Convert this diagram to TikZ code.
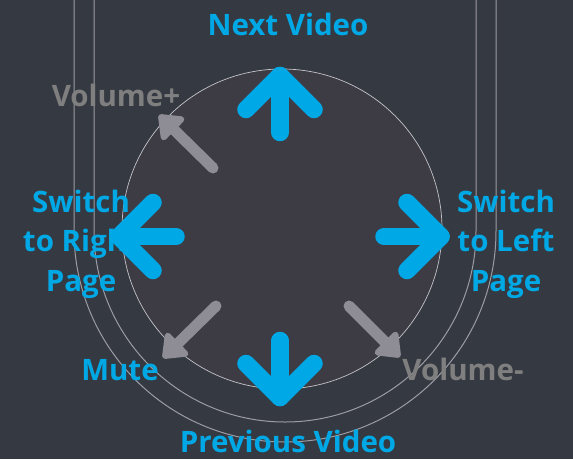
\documentclass[tikz,border=0pt]{standalone}
\usepackage{fontspec}
\setmainfont{Open Sans}
\usetikzlibrary{arrows.meta}
\definecolor{bgdark}{HTML}{353941}
\definecolor{padfill}{HTML}{3D3C45}
\definecolor{padedge}{HTML}{C4C4CA}
\definecolor{rimline}{HTML}{9C9CA4}
\definecolor{swipeblue}{HTML}{00A9E6}
\definecolor{volgray}{HTML}{8E8C95}
\definecolor{textgray}{HTML}{7F7F7F}
\tikzset{
  rim/.style={draw=rimline, line width=1pt},
  swipe/.style={draw=swipeblue, line width=17.5pt, line cap=round, line join=round},
  volarrow/.style={draw=volgray, line width=11pt, line cap=round,
    -{Triangle[round, length=24pt, width=36pt, fill=volgray]}},
  gesturetext/.style={font=\fontsize{29.5}{39.5}\selectfont\bfseries, text=swipeblue,
    align=center, anchor=base, inner sep=0pt},
}
\begin{document}
\begin{tikzpicture}[x=1pt,y=-1pt]  % touch pad gestures
    \fill[bgdark] (0,0) rectangle (573,459);
    \useasboundingbox (0,0) rectangle (573,459);
    % band outline
    \draw[rim] (74,0) -- (74,231) arc[start angle=180, end angle=0, radius=211] -- (496,0);
    \draw[rim] (94,0) -- (94,231) arc[start angle=180, end angle=0, radius=191] -- (476,0);
    \node[circle, draw=padedge, fill=padfill, line width=0.7pt, minimum size=320pt,
      inner sep=0pt] (pad) at (282,229) {};
    % volume and mute
    \draw[volarrow] (213,168) -- (159,115);
    \draw[volarrow] (216,306) -- (163,358);
    \draw[volarrow] (349,306) -- (400,357);
    % swipes
    \coordinate (hub) at (280,236.5);
    \foreach \ang in {0,90,180,270} {
        \begin{scope}[shift={(hub)}, rotate=\ang]
            \draw[swipe] (104,0) -- (161,0);
            \draw[swipe] (127,34) -- (161,0) -- (127,-34);
        \end{scope}
    }
    \node[gesturetext] (next) at (288,35) {Next Video};
    \node[gesturetext] (prev) at (288,452) {Previous Video};
    \node[gesturetext] (toright) at (81,291) {Switch\\to Right\\Page};
    \node[gesturetext] (toleft) at (506,291) {Switch\\to Left\\Page};
    \node[gesturetext] (mute) at (120,380) {Mute};
    \node[gesturetext, text=textgray] (volup) at (116,106) {Volume+};
    \node[gesturetext, text=textgray] (voldown) at (463,380) {Volume-};
\end{tikzpicture}
\end{document}
